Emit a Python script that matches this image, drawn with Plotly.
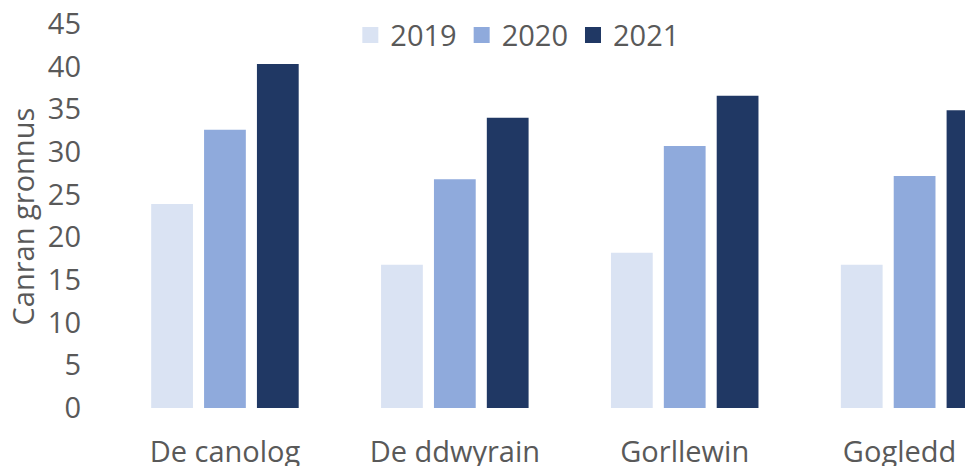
import plotly.graph_objects as go

regions = ["De canolog", "De ddwyrain", "Gorllewin", "Gogledd"]
years = ["2019", "2020", "2021"]
values_2019 = [23.9, 16.8, 18.2, 16.8]
values_2020 = [32.6, 26.8, 30.7, 27.2]
values_2021 = [40.3, 34.0, 36.6, 34.9]
y_ticks = [0, 5, 10, 15, 20, 25, 30, 35, 40, 45]

colors = ["#dae3f3", "#8faadc", "#203864"]
series = [values_2019, values_2020, values_2021]

# last label is nudged left (padded) so it stays inside the window, like the original
tick_text = regions[:-1] + [regions[-1] + "\u00a0" * 4]

fig = go.Figure()
for year, vals, col in zip(years, series, colors):
    fig.add_trace(go.Bar(
        name=year, x=regions, y=vals, showlegend=False,
        marker=dict(color=col, line=dict(width=0)),
    ))
    # legend entry with a bigger square swatch
    fig.add_trace(go.Scatter(
        name=year, x=[None], y=[None], mode="markers",
        marker=dict(symbol="square", size=18, color=col),
    ))

font = "Open Sans, Noto Sans, sans-serif"
# page body has an 8px margin, so the figure is a little smaller than the window
fig.update_layout(
    width=965, height=458,
    margin=dict(l=102, r=0, t=16, b=58, autoexpand=False),
    paper_bgcolor="white", plot_bgcolor="white",
    barmode="group", bargap=0.31, bargroupgap=0.21,
    font=dict(family=font, size=29, color="#595959"),
    showlegend=True,
    legend=dict(
        orientation="h", x=0.472, xanchor="center", y=0.971, yanchor="middle",
        font=dict(size=29, color="#595959"), bgcolor="rgba(0,0,0,0)",
        itemsizing="trace", traceorder="normal", itemwidth=30,
    ),
    xaxis=dict(
        range=[-0.5, 3.254], showgrid=False, showline=False, zeroline=False,
        tickvals=regions, ticktext=tick_text,
        ticks="", ticklabelstandoff=24, automargin=False,
    ),
    yaxis=dict(
        range=[0, 45], tickvals=y_ticks, showgrid=False, showline=False, zeroline=False,
        ticks="", ticklabelstandoff=28, automargin=False, ticklabeloverflow="allow",
    ),
)

# y axis title as a rotated annotation so it can sit nearer the left edge
fig.add_annotation(
    text="Canran gronnus", textangle=-90, showarrow=False,
    xref="paper", yref="paper", x=-0.1015, y=0.5,
    xanchor="center", yanchor="middle",
    font=dict(size=29, color="#595959"),
)

fig.write_html("out.html")
